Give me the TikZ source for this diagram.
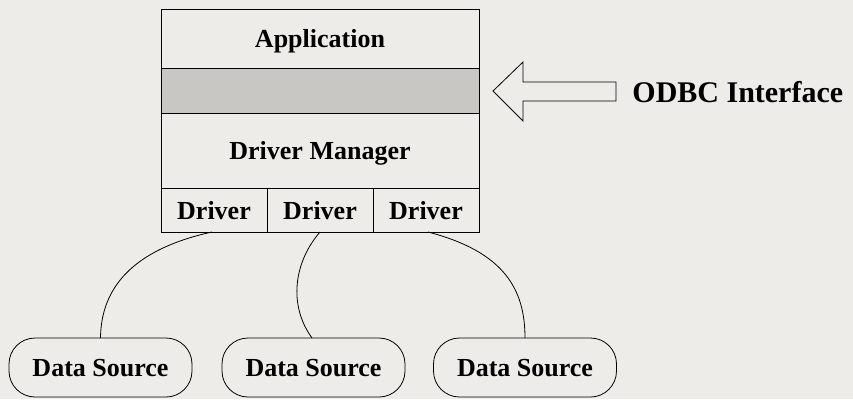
\documentclass[tikz,border=0pt]{standalone}
\usepackage{fontspec}
\setmainfont{Liberation Serif}
\usepackage{xcolor}
\definecolor{paper}{HTML}{EEECE8}
\definecolor{apiband}{HTML}{C9C7C4}

\begin{document}
\begin{tikzpicture}[x=1pt, y=-1pt, line width=0.8pt,
    layer/.style={draw, rectangle, inner sep=0pt, outer sep=0pt, minimum width=318pt,
        text depth=0pt, font=\fontsize{26}{30}\selectfont\bfseries},
    drv/.style={draw, rectangle, inner sep=0pt, outer sep=0pt, minimum width=106pt,
        minimum height=44pt, text depth=0pt, font=\fontsize{26}{30}\selectfont\bfseries},
    source/.style={draw, rectangle, rounded corners=26pt, inner sep=0pt, outer sep=0pt,
        minimum width=183pt, minimum height=59pt, text depth=0pt,
        font=\fontsize{26}{30}\selectfont\bfseries}]
    \fill[paper] (0,0) rectangle (853,399);
    \useasboundingbox (0,0) rectangle (853,399);

    % Layer stack
    \node[layer, minimum height=59pt] (app) at (320,38.5) {Application};
    \node[layer, minimum height=45pt, fill=apiband] (api) at (320,90.5) {};
    \node[layer, minimum height=75pt] (mgr) at (320,150.5) {Driver Manager};
    \node[drv] (drv1) at (214,210) {Driver};
    \node[drv] (drv2) at (320,210) {Driver};
    \node[drv] (drv3) at (426,210) {Driver};

    % Hollow arrow pointing at the grey band
    \draw (493,91) -- (523,62) -- (523,82) -- (616,82) -- (616,101)
        -- (523,101) -- (523,121) -- cycle;
    \node[right, inner sep=0pt, font=\fontsize{30}{34}\selectfont\bfseries] (odbc) at (632,92)
        {ODBC Interface};

    % Data sources — bottom row
    \node[source] (ds1) at (100.5,367.5) {Data Source};
    \node[source] (ds2) at (313.5,367.5) {Data Source};
    \node[source] (ds3) at (525,367.5) {Data Source};

    % Curved links
    \draw (drv1.south -| 212,0) .. controls (130,250) and (101,290) .. (ds1.north);
    \draw (drv2.south) .. controls (294,262) and (288,305) .. (ds2.north -| 312,0);
    \draw (drv3.south -| 428,0) .. controls (505,252) and (525,290) .. (ds3.north);
\end{tikzpicture}
\end{document}
